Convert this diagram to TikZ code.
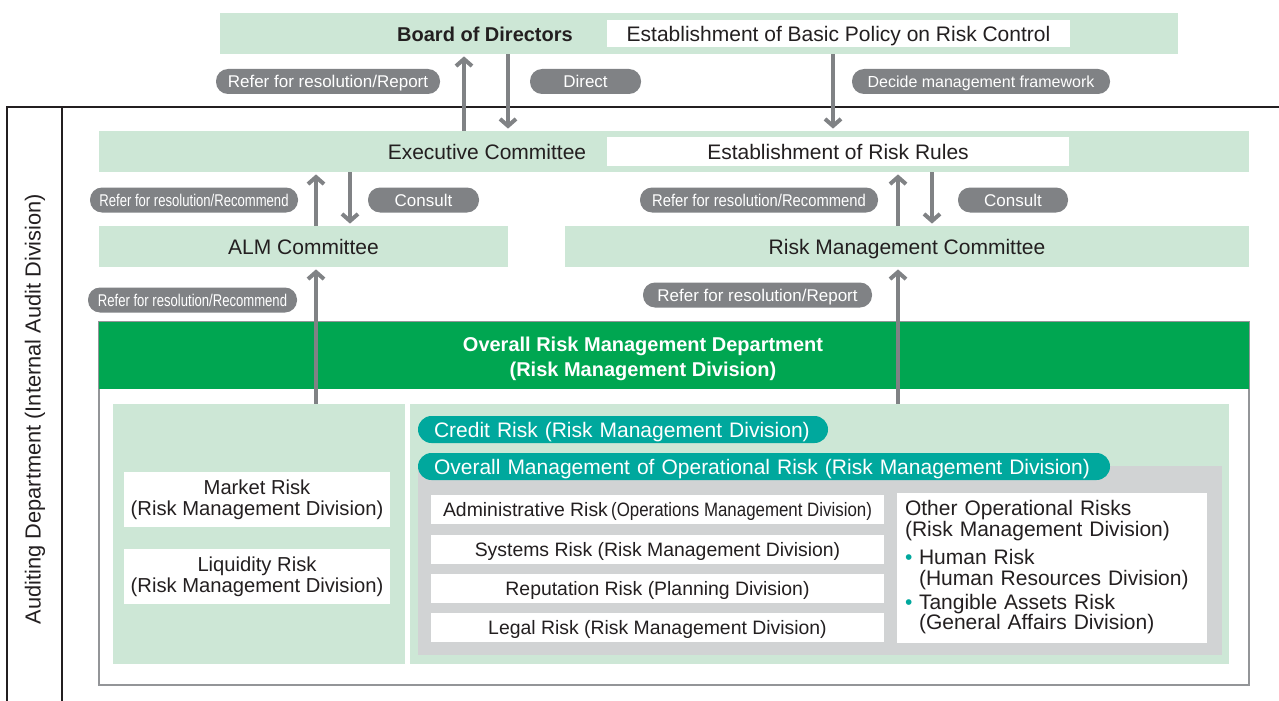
\documentclass[tikz,border=0pt]{standalone}
\usepackage{fontspec}
\setmainfont{Liberation Sans}
\newfontfamily\condfont[FakeStretch=0.77]{Liberation Sans}
\newfontfamily\semicond[FakeStretch=0.87]{Liberation Sans}
\usepackage{tikz}
\usetikzlibrary{positioning,arrows.meta}
\definecolor{lgreen}{RGB}{205,231,214}
\definecolor{dgreen}{RGB}{0,166,81}
\definecolor{tealg}{RGB}{0,168,157}
\definecolor{pgray}{RGB}{128,130,133}
\definecolor{bgray}{RGB}{209,211,212}
\definecolor{fgray}{RGB}{147,149,152}
\definecolor{txt}{RGB}{35,31,32}
\tikzset{
    comm/.style={
    rectangle,fill=lgreen,inner sep=0pt,text=txt,minimum height=20.5pt,text height=7.6pt,text depth=0pt
    },
    wbox/.style={
    rectangle,fill=white,inner sep=0pt,text=txt,align=center
    },
    rbox/.style={
    rectangle,fill=white,inner sep=0pt,text=txt,minimum width=226.5pt,minimum height=14.5pt,
    font=\fontsize{9.7}{10}\selectfont,text height=7pt,text depth=0pt
    },
    pill/.style={
    rectangle,rounded corners=6pt,fill=pgray,text=white,inner sep=0pt,minimum height=12.5pt,
    font=\fontsize{8.5}{9}\selectfont,text height=6.1pt,text depth=0pt
    },
    tpill/.style={
    rectangle,rounded corners=6.75pt,fill=tealg,text=white,inner xsep=8pt,inner ysep=0pt,minimum height=13.5pt,
    align=left,text height=7.6pt,text depth=0pt
    },
  area/.style={rectangle, fill=lgreen, inner sep=0pt},
  line/.style={draw=pgray, line width=2pt, -{Straight Barb[length=3.5pt,width=8pt]}, shorten >=1pt}
}
\begin{document}
\begin{tikzpicture}[x=0.5pt,y=-0.5pt,font=\fontsize{10.5}{10.3}\selectfont,text=txt]
    \useasboundingbox (0,0) rectangle (1279,701);

    \draw[line width=0.75pt,txt] (1279,107) -- (7,107) -- (7,701);
    \draw[line width=0.75pt,txt] (62,107) -- (62,701);
    \node[rotate=90,font=\fontsize{10.9}{11}\selectfont] (audit) at (35,409) {Auditing Department (Internal Audit Division)};

    \node[comm,minimum width=479pt] (board) at (699,33.5) {};
    \node[wbox,minimum width=231.5pt,minimum height=13.5pt,text height=7.6pt,text depth=0pt] (policy) at (838.5,33.5) {Establishment of Basic Policy on Risk Control};
    \node[font=\fontsize{10}{10}\selectfont\bfseries,text height=7.2pt,text depth=0pt] (bod) at (485,34) {Board of Directors};

    \node[comm,minimum width=575pt] (exec) at (674,151.5) {};
    \node[wbox,minimum width=231pt,minimum height=14.5pt,text height=7.6pt,text depth=0pt] (rules) at (838,151.5) {Establishment of Risk Rules};
    \node[text height=7.6pt,text depth=0pt] (ec) at (487,151.5) {Executive Committee};

    \node[comm,minimum width=204.5pt] (alm) at (303.5,246.5) {ALM Committee};
    \node[comm,minimum width=342pt] (rmc) at (907,246.5) {Risk Management Committee};

    \node[pill,minimum width=112pt] (refrep) at (328,81.5) {Refer for resolution/Report};
    \node[pill,minimum width=55.5pt] (direct) at (585.5,81.5) {Direct};
    \node[pill,minimum width=129pt,font=\fontsize{8}{9}\selectfont] (decide) at (981,81.5) {Decide management framework};
    \node[pill,minimum width=104pt] (refrecA) at (194,200) {\condfont Refer for resolution/Recommend};
    \node[pill,minimum width=55.5pt] (consA) at (423.5,200) {Consult};
    \node[pill,minimum width=119pt] (refrecB) at (759,200) {\semicond Refer for resolution/Recommend};
    \node[pill,minimum width=55pt] (consB) at (1013,200) {Consult};
    \node[pill,minimum width=104.5pt] (refrecC) at (192.5,300) {\condfont Refer for resolution/Recommend};
    \node[pill,minimum width=114.5pt] (refrepB) at (757.5,295) {Refer for resolution/Report};

    \node[rectangle,draw=fgray,line width=0.75pt,minimum width=575pt,minimum height=181.5pt,inner sep=0pt] (ormd) at (674,503.5) {};
    \node[rectangle,fill=dgreen,minimum width=575pt,minimum height=33.5pt,inner sep=0pt] (head) at (674,355.5) {};
    \node[text=white,font=\fontsize{10}{12.5}\selectfont\bfseries,align=center] (headtxt) at (643,359) {Overall Risk Management Department\\(Risk Management Division)};

    \node[area,minimum width=146pt,minimum height=130pt] (lft) at (259,534) {};
    \node[area,minimum width=409.5pt,minimum height=130pt] (rgt) at (819.5,534) {};

    \node[wbox,minimum width=133pt,minimum height=27.5pt,font=\fontsize{10.1}{10.3}\selectfont] (market) at (257,499.5) {Market Risk\\(Risk Management Division)};
    \node[wbox,minimum width=133pt,minimum height=27.5pt,font=\fontsize{10.1}{10.3}\selectfont] (liquid) at (257,576.5) {Liquidity Risk\\(Risk Management Division)};

    \node[rectangle,fill=bgray,minimum width=402pt,minimum height=94.5pt,inner sep=0pt] (opr) at (820,560.5) {};
    \node[tpill,text width=189pt] (credit) at (623,429.5) {Credit Risk (Risk Management Division)};
    \node[tpill,text width=330pt] (opmgmt) at (764,466.5) {Overall Management of Operational Risk (Risk Management Division)};

    \node[rbox] (admin) at (657.5,509.5) {Administrative Risk\,{\semicond(Operations Management Division)}};
    \node[rbox] (systems) at (657.5,549) {Systems Risk (Risk Management Division)};
    \node[rbox] (reput) at (657.5,588.5) {Reputation Risk (Planning Division)};
    \node[rbox] (legal) at (657.5,627.5) {Legal Risk (Risk Management Division)};
    \node[wbox,align=left,text width=147pt,inner xsep=4pt,minimum height=75pt,font=\fontsize{10.5}{10.2}\selectfont] (other) at (1052,567.5) {Other Operational Risks\\
      (Risk Management Division)\\[4pt]
      \makebox[7pt][l]{\textcolor{tealg}{\textbullet}}Human Risk\\
      \hspace*{7pt}(Human Resources Division)\\[2pt]
      \makebox[7pt][l]{\textcolor{tealg}{\textbullet}}Tangible Assets Risk\\
      \hspace*{7pt}(General Affairs Division)};

    \coordinate (ua) at (464,0);
    \coordinate (da) at (508,0);
    \coordinate (db) at (833,0);
    \coordinate (ub) at (316,0);
    \coordinate (dc) at (350,0);
    \coordinate (uc) at (898,0);
    \coordinate (dd) at (932,0);

    \begin{scope} [every path/.style=line]
      \path (exec.north -| ua) -- (board.south -| ua);
      \path (board.south -| da) -- (exec.north -| da);
      \path (board.south -| db) -- (exec.north -| db);

      \path (alm.north -| ub) -- (exec.south -| ub);
      \path (exec.south -| dc) -- (alm.north -| dc);
      \path (rmc.north -| uc) -- (exec.south -| uc);
      \path (exec.south -| dd) -- (rmc.north -| dd);

      \path (lft.north -| ub) -- (alm.south -| ub);
      \path (rgt.north -| uc) -- (rmc.south -| uc);
    \end{scope}
\end{tikzpicture}
\end{document}
